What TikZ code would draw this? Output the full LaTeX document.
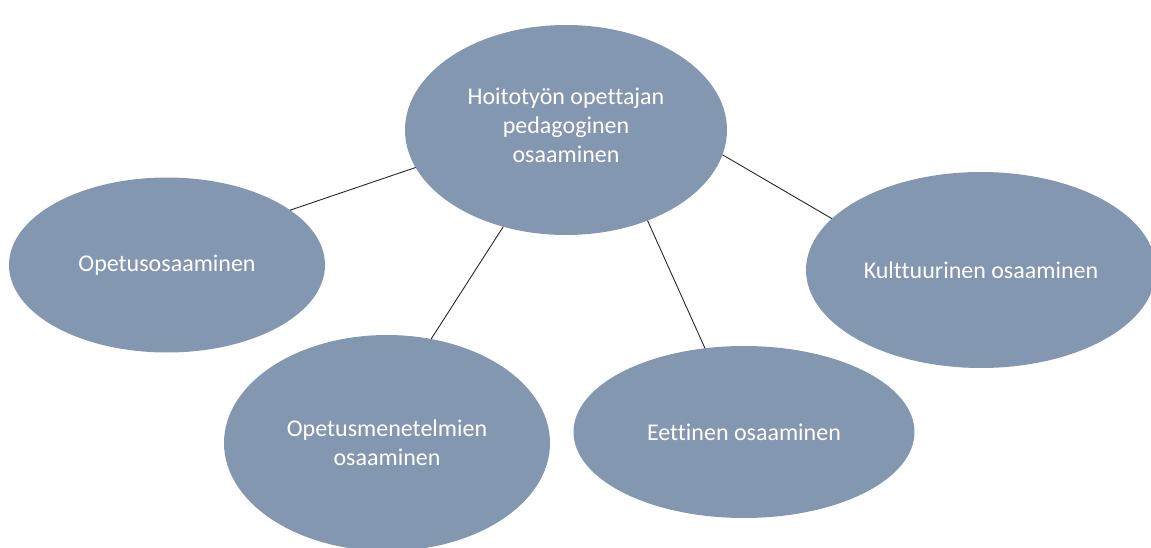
\documentclass[tikz,border=0pt]{standalone}
\usepackage{fontspec}
\setmainfont{Carlito}[Ligatures=NoCommon]
\usetikzlibrary{shapes.geometric}
\definecolor{bubble}{RGB}{132,151,176}
\definecolor{linkline}{RGB}{40,40,40}
\tikzset{
  bubbletext/.style={text=white, align=center, inner sep=0pt,
    font=\fontsize{24}{29}\selectfont},
  bubble/.style={ellipse, fill=bubble, draw=none, inner sep=0pt, outer sep=0pt,
    bubbletext},
  link/.style={draw=linkline, line width=0.9pt}
}
\begin{document}
\begin{tikzpicture}[x=1pt,y=-1pt]
\useasboundingbox (0,0) rectangle (1151,548);
% concept bubbles
\node[bubble, minimum width=322pt, minimum height=210pt] (core) at (566,130) {};
\node[bubbletext] (coretext) at ([yshift=5pt]core.center)
  {Hoitotyön opettajan\\pedagoginen\\osaaminen};
\node[bubble, minimum width=316pt, minimum height=175pt] (teach) at (167,265)
  {Opetusosaaminen};
\node[bubble, minimum width=326pt, minimum height=216pt] (methods) at (387,443)
  {Opetusmenetelmien\\osaaminen};
\node[bubble, minimum width=341pt, minimum height=172pt] (ethics) at (744,432)
  {Eettinen osaaminen};
\node[bubble, minimum width=350pt, minimum height=196pt] (culture) at (981,270)
  {Kulttuurinen osaaminen};
% connectors from the core bubble
\draw[link] (teach.24) -- (core.194);
\draw[link] (core.237) -- (methods.67);
\draw[link] (core.312) -- (ethics.115);
\draw[link] (core.351) -- (culture.161);
\end{tikzpicture}
\end{document}
